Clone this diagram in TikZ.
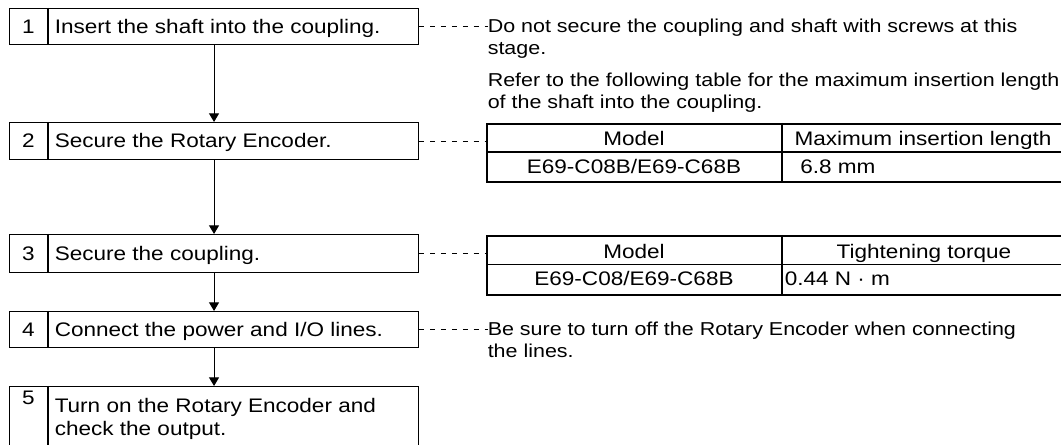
\documentclass[tikz,border=0pt]{standalone}
\usepackage{fontspec}
\setmainfont{Liberation Sans}[FakeStretch=1.15]
\usetikzlibrary{arrows.meta,calc}
\newcommand{\bigtxt}{\fontsize{14.7}{17.25}\selectfont}
\tikzset{
  stepbox/.style={draw=black, line width=0.8pt, minimum width=306.75pt, inner sep=0pt, anchor=north west},
  tabbox/.style={draw=black, line width=1.3pt, minimum width=435pt, inner sep=0pt, anchor=north west},
  tabline/.style={draw=black, line width=1.3pt},
  coldiv/.style={draw=black, line width=0.8pt},
  numdiv/.style={draw=black, line width=0.8pt},
  txt/.style={inner sep=0pt, anchor=base west, text=black, font=\bigtxt},
  numtxt/.style={inner sep=0pt, anchor=base, text=black, font=\bigtxt},
  ctxt/.style={inner sep=0pt, anchor=base, text=black, font=\bigtxt},
  steptwo/.style={inner sep=0pt, anchor=north west, align=left, text=black, font=\bigtxt},
  notetxt/.style={inner sep=0pt, anchor=north west, align=left, text=black},
  arr/.style={draw=black, line width=0.8pt, -{Triangle[width=7.5pt,length=6.5pt]}},
  dashline/.style={draw=black, line width=0.6pt, dash pattern=on 4pt off 4.2pt}
}
\begin{document}
\begin{tikzpicture}[x=0.75pt, y=-0.75pt, font=\fontsize{14}{16.875}\selectfont]
\useasboundingbox (0,0) rectangle (1061,445);
\clip (0,0) rectangle (1061,445);

% step boxes
\node[stepbox, minimum height=27pt] (s1) at (9,8) {};
\node[stepbox, minimum height=27.75pt] (s2) at (9,122) {};
\node[stepbox, minimum height=28.5pt] (s3) at (9,234) {};
\node[stepbox, minimum height=27pt] (s4) at (9,311) {};
\node[stepbox, minimum height=52.5pt] (s5) at (9,386) {};

\foreach \s in {s1,s2,s3,s4,s5}{
  \draw[numdiv] ([xshift=29.25pt]\s.north west) -- ([xshift=29.25pt]\s.south west);
}

% step numbers and texts
\node[numtxt] (n1) at (28.5,33.3) {1};
\node[txt] (t1) at (54.5,33.3) {Insert the shaft into the coupling.};
\node[numtxt] (n2) at (28.5,147.8) {2};
\node[txt] (t2) at (54.5,147.8) {Secure the Rotary Encoder.};
\node[numtxt] (n3) at (28.5,260.3) {3};
\node[txt] (t3) at (54.5,260.3) {Secure the coupling.};
\node[numtxt] (n4) at (28.5,336.3) {4};
\node[txt] (t4) at (54.5,336.3) {Connect the power and I/O lines.};
\node[numtxt] (n5) at (28.5,405) {5};
\node[steptwo] (t5) at (54.5,397.6) {Turn on the Rotary Encoder and\\check the output.};

% arrows
\draw[arr] (s1.south) -- (s2.north);
\draw[arr] (s2.south) -- (s3.north);
\draw[arr] (s3.south) -- (s4.north);
\draw[arr] (s4.south) -- (s5.north);

% notes
\node[notetxt] (note1) at (487.5,18.4) {Do not secure the coupling and shaft with screws at this\\stage.};
\node[notetxt] (note2) at (487.5,72.7) {Refer to the following table for the maximum insertion length\\of the shaft into the coupling.};
\node[notetxt] (note4) at (487.5,321.7) {Be sure to turn off the Rotary Encoder when connecting\\the lines.};

% table 1
\node[tabbox, minimum height=43.5pt] (tab1) at (486,123) {};
\draw[tabline] ([yshift=-21.75pt]tab1.north west) -- ([yshift=-21.75pt]tab1.north east);
\draw[coldiv] ([xshift=222pt]tab1.north west) -- ([xshift=222pt]tab1.south west);
\node[ctxt] (h11) at (634,145.5) {Model};
\node[ctxt] (h12) at (923,145.5) {Maximum insertion length};
\node[ctxt] (c11) at (634,173.5) {E69-C08B/E69-C68B};
\node[txt] (c12) at (800,173.5) {6.8 mm};

% table 2
\node[tabbox, minimum height=44.25pt] (tab2) at (486,235) {};
\draw[tabline] ([yshift=-22.125pt]tab2.north west) -- ([yshift=-22.125pt]tab2.north east);
\draw[coldiv] ([xshift=222pt]tab2.north west) -- ([xshift=222pt]tab2.south west);
\node[ctxt] (h21) at (634,258.5) {Model};
\node[ctxt] (h22) at (924,258.5) {Tightening torque};
\node[ctxt] (c21) at (634,285.5) {E69-C08/E69-C68B};
\node[txt] (c22) at (784.5,285.5) {0.44 N · m};

% dashed leaders
\draw[dashline] (s1.east) -- (s1.east -| note1.west);
\draw[dashline] (s2.east) -- (s2.east -| tab1.west);
\draw[dashline] (s3.east) -- (s3.east -| tab2.west);
\draw[dashline] (s4.east) -- (s4.east -| note4.west);
\end{tikzpicture}
\end{document}
